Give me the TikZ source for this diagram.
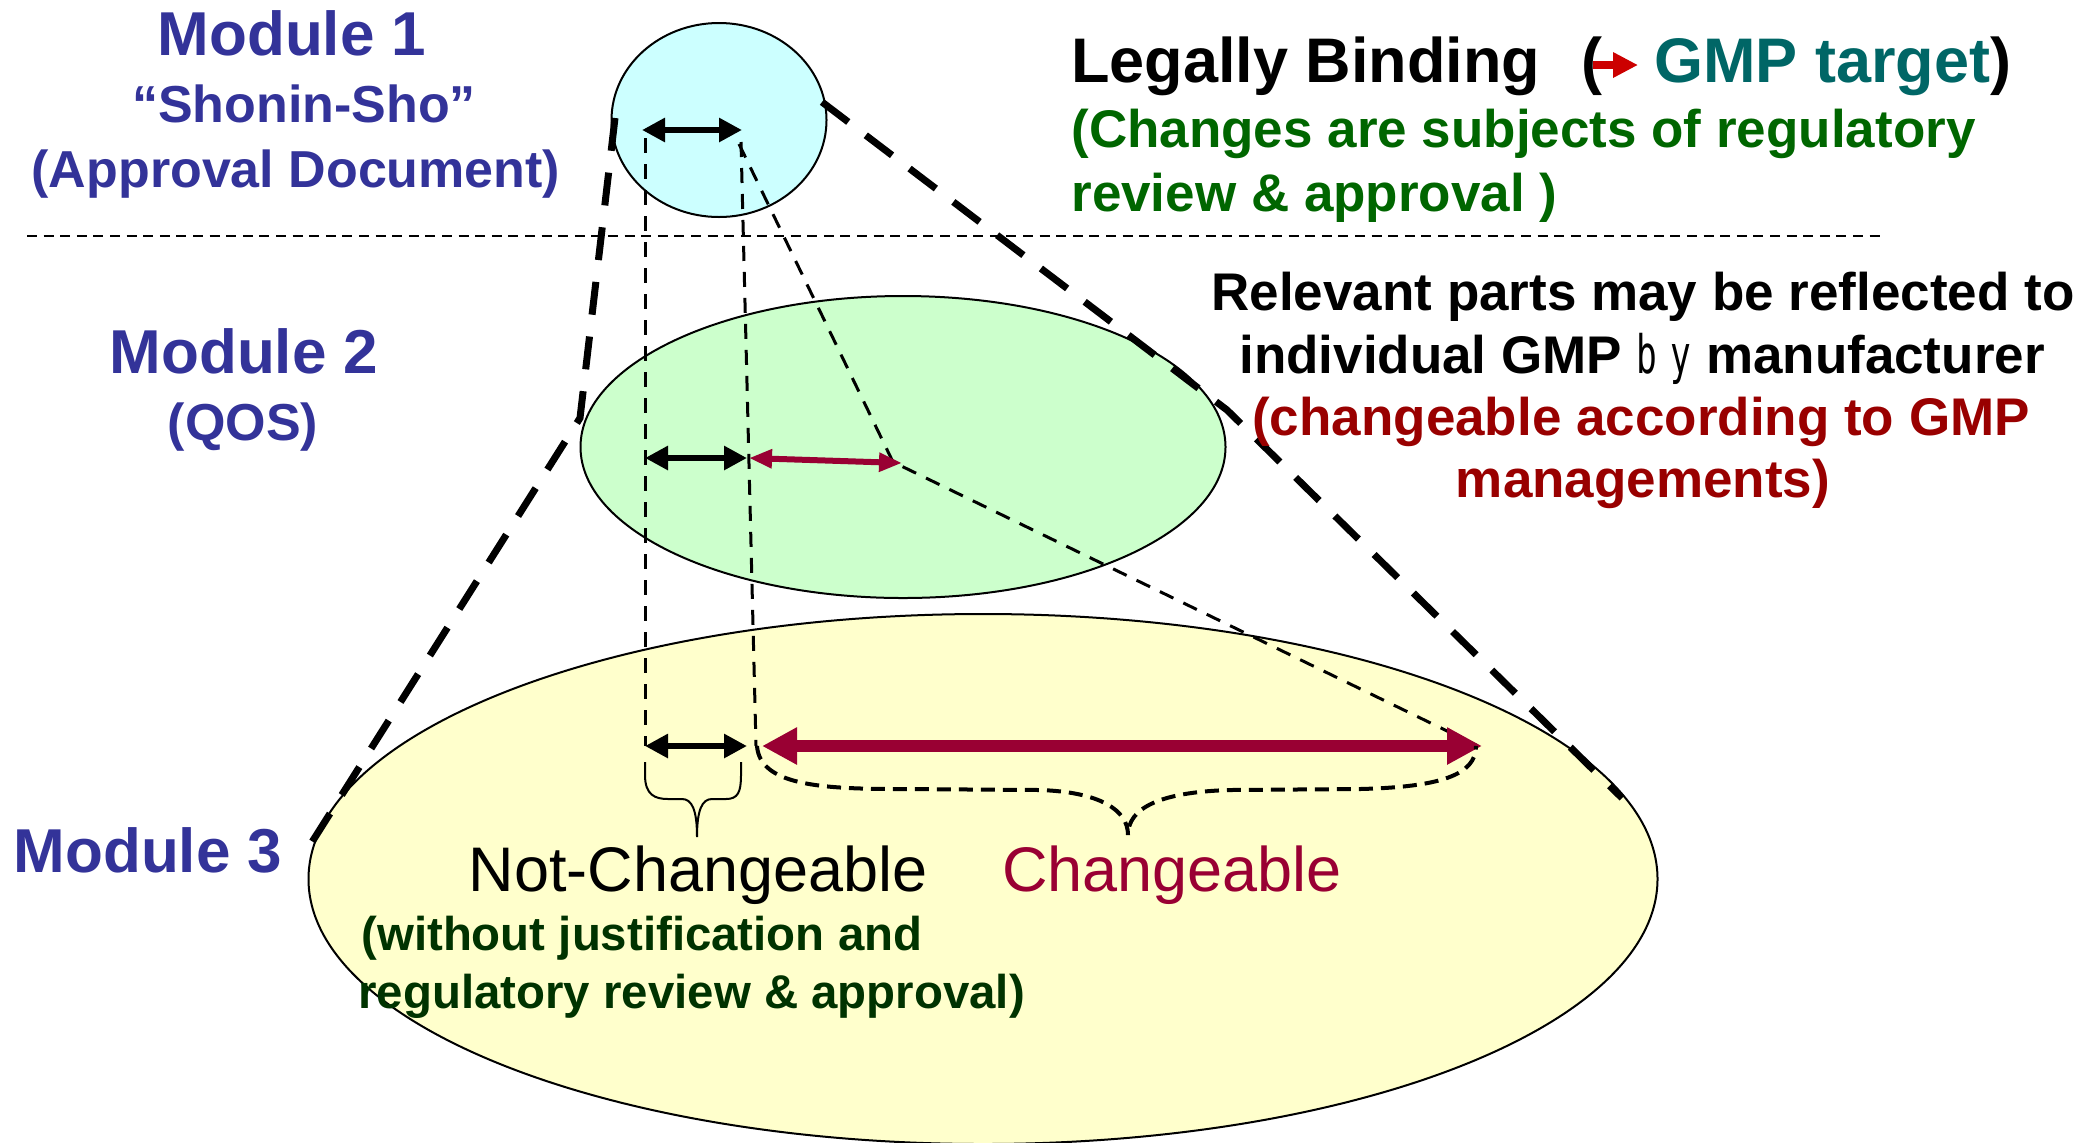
\documentclass[tikz,border=0pt]{standalone}
\usepackage{fontspec}
\setmainfont{Liberation Sans}
\newfontfamily\monof{DejaVu Sans Mono}
\usetikzlibrary{arrows.meta,shapes.geometric}
\definecolor{modblue}{HTML}{333399}
\definecolor{tealc}{HTML}{006666}
\definecolor{greenc}{HTML}{006600}
\definecolor{darkgreenc}{HTML}{003300}
\definecolor{darkredc}{HTML}{990000}
\definecolor{crimsonc}{HTML}{990033}
\definecolor{arrowredc}{HTML}{CC0000}
\definecolor{cyanfill}{HTML}{CCFFFF}
\definecolor{greenfill}{HTML}{CCFFCC}
\definecolor{yellowfill}{HTML}{FFFFCC}
\begin{document}
\begin{tikzpicture}[x=0.5pt,y=-0.5pt,
  txt/.style={inner sep=0pt, anchor=base},
  modfont/.style={font=\bfseries\fontsize{31}{36}\selectfont, text=modblue},
  subfont/.style={font=\bfseries\fontsize{26}{30}\selectfont, text=modblue},
  rightfont/.style={font=\bfseries\fontsize{26.5}{30}\selectfont},
  bigreg/.style={font=\fontsize{31.5}{36}\selectfont},
  ellipsebox/.style={ellipse, draw=black, line width=1pt, inner sep=0pt},
  thindash/.style={line width=1.5pt, dash pattern=on 7.5pt off 5.5pt},
  thickdash/.style={line width=3.5pt, dash pattern=on 16.5pt off 11pt},
  bracedash/.style={line width=2pt, dash pattern=on 7pt off 4pt},
  dotline/.style={line width=0.8pt, dash pattern=on 5pt off 3.3pt},
  blkarrow/.style={line width=3pt, {Triangle[length=11.5pt,width=11.5pt]}-{Triangle[length=11.5pt,width=11.5pt]}},
  redarrow/.style={draw=crimsonc, line width=3pt, {Triangle[length=11.5pt,width=9pt]}-{Triangle[length=11.5pt,width=9pt]}},
  bigredarrow/.style={draw=crimsonc, line width=6pt, {Triangle[length=17.5pt,width=17.5pt]}-{Triangle[length=17.5pt,width=17.5pt]}}
]
\useasboundingbox (0,0) rectangle (2096,1142);

% ellipses
\node[ellipsebox, fill=yellowfill, minimum width=674.5pt, minimum height=265pt] (e3) at (983,879) {};
\node[ellipsebox, fill=greenfill, minimum width=322.5pt, minimum height=151pt] (e2) at (903,447) {};
\node[ellipsebox, fill=cyanfill, minimum width=107.5pt, minimum height=97pt] (e1) at (719,120) {};

% separator
\coordinate (sepL) at (27,236);
\coordinate (sepR) at (1884,236);
\draw[dotline] (sepL) -- (sepR);

% outer thick dashed lines
\coordinate (tl1) at (615,118);
\coordinate (tl2) at (580,418);
\coordinate (tl3) at (312,842);
\coordinate (tr1) at (822,102);
\coordinate (tr2) at (1227,410);
\coordinate (tr3) at (1622,798);
\draw[thickdash] (tl1) -- (tl2) -- (tl3);
\draw[thickdash] (tr1) -- (tr2) -- (tr3);

% thin dashed projection lines
\coordinate (v1a) at (645,138);
\coordinate (v1b) at (645,746);
\coordinate (v2a) at (741,142);
\coordinate (v2b) at (756,746);
\coordinate (d1) at (739,144);
\coordinate (d2) at (893,462);
\coordinate (d3) at (1478,746);
\draw[thindash] (v1a) -- (v1b);
\draw[thindash] (v2a) -- (v2b);
\draw[thindash] (d1) -- (d2) -- (d3);

% arrows
\coordinate (a1l) at (642,130);
\coordinate (a1r) at (742,130);
\coordinate (a2l) at (645,458);
\coordinate (a2r) at (747,458);
\coordinate (r2l) at (749,458);
\coordinate (r2r) at (902,463);
\coordinate (a3l) at (645,746);
\coordinate (a3r) at (747,746);
\coordinate (r3l) at (762,746);
\coordinate (r3r) at (1482,746);
\draw[blkarrow] (a1l) -- (a1r);
\draw[blkarrow] (a2l) -- (a2r);
\draw[redarrow] (r2l) -- (r2r);
\draw[blkarrow] (a3l) -- (a3r);
\draw[bigredarrow] (r3l) -- (r3r);

% braces
\coordinate (b1l) at (645,762);
\coordinate (b1t) at (697,837);
\coordinate (b1r) at (741,762);
\draw[line width=1pt] (b1l) -- (645,775) .. controls (645,795) and (655,799) .. (668,799) -- (682,799)
  .. controls (692,799) and (697,810) .. (b1t)
  .. controls (697,810) and (702,799) .. (712,799) -- (726,799)
  .. controls (738,799) and (741,792) .. (741,775) -- (b1r);
\coordinate (b2l) at (757,746);
\coordinate (b2t) at (1128,835);
\coordinate (b2r) at (1476,746);
\draw[bracedash] (b2l) .. controls (760,785) and (820,789) .. (900,789) -- (1040,790)
  .. controls (1100,792) and (1128,810) .. (b2t)
  .. controls (1128,808) and (1160,792) .. (1230,790) -- (1360,789)
  .. controls (1440,787) and (1476,775) .. (b2r);

% left texts
\node[txt, modfont] (m1) at (292,55) {Module 1};
\node[txt, subfont] (m1a) at (304,122) {“Shonin-Sho”};
\node[txt, subfont] (m1b) at (296,187) {(Approval Document)};
\node[txt, modfont] (m2) at (244,373) {Module 2};
\node[txt, subfont] (m2a) at (243,440) {(QOS)};
\node[txt, modfont] (m3) at (148,872) {Module 3};

% top right texts
\node[txt, anchor=base west, font=\bfseries\fontsize{31.5}{36}\selectfont] (lb) at (1071,82) {Legally Binding};
\node[txt, anchor=base west, font=\bfseries\fontsize{31.5}{36}\selectfont] (lbp) at (1581,82) {(};
\node[txt, anchor=base west, font=\bfseries\fontsize{31.5}{36}\selectfont] (gmp) at (1654,82) {\textcolor{tealc}{GMP target})};
\coordinate (ga1) at (1593,65);
\coordinate (ga2) at (1638,65);
\draw[draw=arrowredc, line width=4pt, -{Triangle[length=12.5pt,width=12pt]}] (ga1) -- (ga2);
\node[txt, anchor=base west, rightfont, text=greenc] (ch1) at (1071,147) {(Changes are subjects of regulatory};
\node[txt, anchor=base west, rightfont, text=greenc] (ch2) at (1071,211) {review \& approval )};

\node[txt, rightfont] (rp1) at (1643,310) {Relevant parts may be reflected to};
\node[txt, rightfont] (rp2) at (1642,373) {individual GMP {\monof\mdseries\scalebox{0.65}[1]{b}\hspace{6.5pt}\scalebox{0.65}[1]{y}} manufacturer};
\node[txt, rightfont, text=darkredc] (rp3) at (1641,435) {(changeable according to GMP};
\node[txt, rightfont, text=darkredc] (rp4) at (1643,497) {managements)};

% module 3 texts
\node[txt, bigreg] (nc) at (698,891) {Not-Changeable};
\node[txt, bigreg, text=crimsonc] (cg) at (1172,891) {Changeable};
\node[txt, anchor=base west, font=\bfseries\fontsize{23.7}{28}\selectfont, text=darkgreenc] (wj1) at (361,950) {(without justification and};
\node[txt, anchor=base west, font=\bfseries\fontsize{23.7}{28}\selectfont, text=darkgreenc] (wj2) at (358,1008) {regulatory review \& approval)};
\end{tikzpicture}
\end{document}
